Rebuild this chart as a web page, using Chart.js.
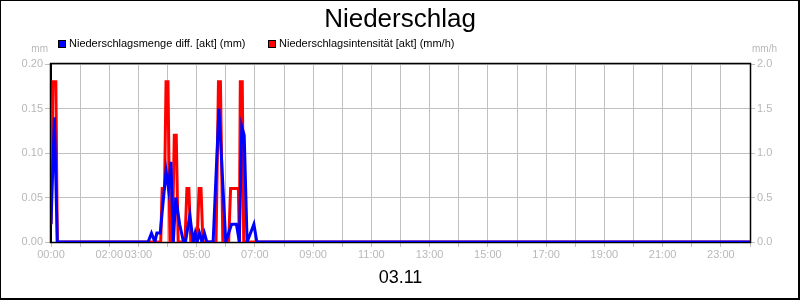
<!DOCTYPE html>
<html>
<head>
<meta charset="utf-8">
<script src="https://cdn.jsdelivr.net/npm/chart.js@4"></script>
<style>
  html, body { margin: 0; padding: 0; background: #fff; }
  canvas { display: block; }
</style>
</head>
<body>
<canvas id="c" width="800" height="300"></canvas>
<script>
const chartTitle = 'Niederschlag';
const dateLabel = '03.11';
const leftUnit = 'mm';
const rightUnit = 'mm/h';
const mengeLabel = 'Niederschlagsmenge diff. [akt] (mm)';
const intensLabel = 'Niederschlagsintensität [akt] (mm/h)';

// one label per hour, 00:00 .. 24:00 (the source only prints some of them)
const hourLabels = ['00:00', '', '02:00', '03:00', '', '05:00', '', '07:00', '', '09:00', '', '11:00', '',
  '13:00', '', '15:00', '', '17:00', '', '19:00', '', '21:00', '', '23:00', ''];

// times in minutes after midnight
const mengeTimes = [0, 7, 13, 200, 207, 214, 218, 225, 237, 242, 247, 252, 257, 265, 273, 277, 286, 293,
  297, 301, 306, 311, 316, 321, 334, 346, 360, 372, 382, 388, 393, 398, 404, 418, 424, 1440];
const mengeValues = [0.02, 0.14, 0, 0, 0.01, 0, 0.01, 0.01, 0.08, 0.06, 0.09, 0, 0.05, 0.02, 0, 0, 0.03, 0,
  0.01, 0, 0.01, 0, 0.01, 0, 0, 0.15, 0, 0.02, 0.02, 0, 0.13, 0.12, 0, 0.02, 0, 0];

const intensTimes = [0, 4, 10, 13, 226, 229, 234, 237, 241, 245, 250, 254, 258, 262, 276, 280, 284, 288,
  301, 305, 309, 313, 340, 345, 349, 354, 366, 370, 386, 388, 390, 394, 397, 1440];
const intensValues = [0.2, 1.8, 1.8, 0, 0, 0.6, 0.6, 1.8, 1.8, 0, 0, 1.2, 1.2, 0, 0, 0.6, 0.6, 0,
  0, 0.6, 0.6, 0, 0, 1.8, 1.8, 0, 0, 0.6, 0.6, 0, 1.8, 1.8, 0, 0];

const FONT = "'Liberation Sans', Arial, sans-serif";
const gridGrey = '#c0c0c0';
const labelGrey = '#b8b8b8';

const toPoints = (times, values) => times.map((t, i) => ({ x: t, y: values[i] }));

// title, legend, units, date, frames
const decorations = {
  id: 'decorations',
  beforeDatasetsDraw(chart) {
    const { ctx, chartArea: a } = chart;
    ctx.save();
    ctx.strokeStyle = '#000';
    ctx.lineWidth = 1.5;
    ctx.strokeRect(a.left - 0.5, a.top - 0.5, a.right - a.left + 1, a.bottom - a.top + 1);
    ctx.restore();
  },
  afterDraw(chart) {
    const { ctx, chartArea: a } = chart;
    ctx.save();
    ctx.fillStyle = '#000';
    ctx.fillRect(0, 0, 800, 1);
    ctx.fillRect(0, 0, 1, 300);
    ctx.fillRect(798, 0, 2, 300);
    ctx.fillRect(0, 298, 800, 2);

    ctx.textBaseline = 'alphabetic';
    ctx.textAlign = 'center';
    ctx.font = '26px ' + FONT;
    ctx.fillText(chartTitle, 400, 27);

    ctx.font = '18px ' + FONT;
    ctx.fillText(dateLabel, (a.left + a.right) / 2, 283);

    // legend
    ctx.textAlign = 'left';
    ctx.font = '11px ' + FONT;
    const items = [[58, chart.data.datasets[0]], [268, chart.data.datasets[1]]];
    items.forEach(([x, ds]) => {
      ctx.fillStyle = ds.borderColor;
      ctx.fillRect(x, 40, 7, 7);
      ctx.strokeStyle = '#000';
      ctx.lineWidth = 1;
      ctx.strokeRect(x + 0.5, 40.5, 7, 7);
      ctx.fillStyle = '#000';
      ctx.fillText(ds.label, x + 11, 47);
    });

    // axis units
    ctx.fillStyle = labelGrey;
    ctx.font = '10px ' + FONT;
    ctx.textAlign = 'right';
    ctx.fillText(leftUnit, 48, 52);
    ctx.textAlign = 'left';
    ctx.fillText(rightUnit, 752, 52);
    ctx.restore();
  }
};

new Chart(document.getElementById('c'), {
  type: 'line',
  data: {
    datasets: [
      {
        label: mengeLabel,
        data: toPoints(mengeTimes, mengeValues),
        borderColor: '#0000ff',
        backgroundColor: '#0000ff',
        borderWidth: 3,
        pointRadius: 0,
        tension: 0,
        yAxisID: 'y',
      },
      {
        label: intensLabel,
        data: toPoints(intensTimes, intensValues),
        borderColor: '#ff0000',
        backgroundColor: '#ff0000',
        borderWidth: 3,
        pointRadius: 0,
        tension: 0,
        yAxisID: 'y1',
      },
    ],
  },
  options: {
    responsive: false,
    animation: false,
    layout: { padding: { top: 64, left: 0, right: 0, bottom: 0 } },
    plugins: { legend: { display: false }, tooltip: { enabled: false }, title: { display: false } },
    scales: {
      x: {
        type: 'linear',
        min: 0,
        max: 1440,
        afterBuildTicks: (s) => { s.ticks = hourLabels.map((_, i) => ({ value: i * 60 })); },
        afterFit: (s) => { s.height = 58; },
        ticks: {
          autoSkip: false,
          maxRotation: 0,
          padding: 1,
          color: labelGrey,
          font: { family: FONT, size: 11 },
          callback: (v) => hourLabels[Math.round(v / 60)],
        },
        grid: { color: gridGrey, tickColor: gridGrey, tickLength: 5 },
        border: { color: '#000', width: 1 },
      },
      y: {
        position: 'left',
        min: 0,
        max: 0.2,
        afterFit: (s) => { s.width = 51; },
        ticks: {
          stepSize: 0.05,
          padding: 2,
          color: labelGrey,
          font: { family: FONT, size: 11 },
          callback: (v) => v.toFixed(2),
        },
        grid: { color: gridGrey, tickColor: gridGrey, tickLength: 6 },
        border: { color: '#000', width: 1 },
      },
      y1: {
        position: 'right',
        min: 0,
        max: 2,
        afterFit: (s) => { s.width = 50; },
        ticks: {
          stepSize: 0.5,
          padding: 2,
          color: labelGrey,
          font: { family: FONT, size: 11 },
          callback: (v) => v.toFixed(1),
        },
        grid: { drawOnChartArea: false, color: gridGrey, tickColor: gridGrey, tickLength: 5 },
        border: { color: '#000', width: 1 },
      },
    },
  },
  plugins: [decorations],
});
</script>
</body>
</html>
